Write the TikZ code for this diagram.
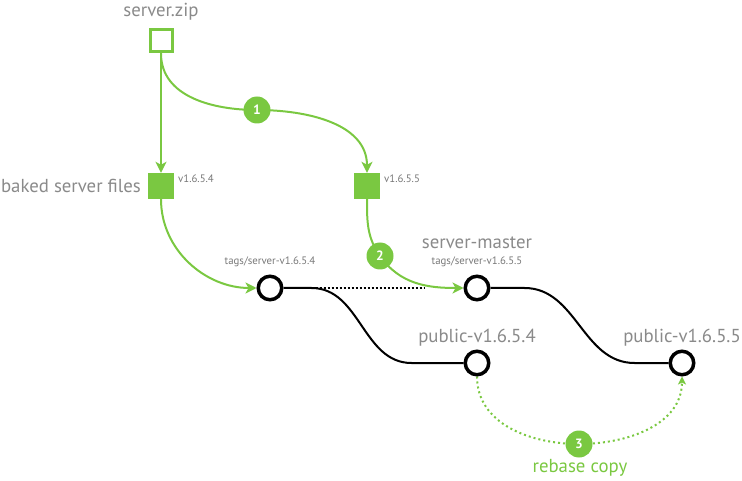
\documentclass[tikz,border=0pt]{standalone}
\usepackage{fontspec}
\setmainfont{PT Sans}
\usetikzlibrary{arrows.meta,backgrounds}
\definecolor{mygreen}{RGB}{122,200,65}
\definecolor{textgray}{RGB}{138,138,138}
\definecolor{smallgray}{RGB}{120,120,120}
\tikzset{
 bigtext/.style={text=textgray, font=\fontsize{18.8}{22}\selectfont, inner sep=0pt},
 smalltext/.style={text=smallgray, font=\fontsize{10.8}{12}\selectfont, inner sep=0pt},
 greentext/.style={text=mygreen, font=\fontsize{18.8}{22}\selectfont, inner sep=0pt},
 commit/.style={circle, draw=black, line width=3.5pt, fill=white, minimum size=23.5pt, inner sep=0pt},
 gbox/.style={rectangle, fill=mygreen, minimum size=26pt, inner sep=0pt},
 obox/.style={rectangle, draw=mygreen, line width=3pt, fill=white, minimum size=22pt, inner sep=0pt},
 num/.style={circle, fill=mygreen, text=white, minimum size=27pt, inner sep=0pt, font=\fontsize{13.5}{14}\selectfont\bfseries},
 gline/.style={draw=mygreen, line width=2pt},
 garrow/.style={gline, -{Stealth[length=11pt,width=11pt,inset=3pt]}},
 gdotarrow/.style={draw=mygreen, line width=2pt, dash pattern=on 2pt off 3pt, -{Stealth[length=8pt,width=8pt,inset=2pt]}},
 bline/.style={draw=black, line width=2pt},
 bdots/.style={draw=black, line width=2pt, dash pattern=on 2pt off 2pt},
}
\begin{document}
\begin{tikzpicture}[x=1pt,y=1pt]
\useasboundingbox (0,0) rectangle (742,480);
% nodes
\node[obox] (zip) at (161,439) {};
\node[gbox] (b1) at (161,294) {};
\node[gbox] (b2) at (367,294) {};
\node[num] (c1) at (257,370) {1};
\node[num] (c2) at (380,224) {2};
\node[num] (c3) at (579,36) {3};
\node[commit] (t1) at (270,192) {};
\node[commit] (t2) at (477,192) {};
\node[commit] (p1) at (477,117) {};
\node[commit] (p2) at (682,117) {};
\coordinate (dotend) at (425,192);
% labels
\node[bigtext] (lzip) at (161,468) {server.zip};
\node[bigtext, anchor=east] (lb1) at (141,294) {baked server files};
\node[smalltext, anchor=west] (v1) at (178,301) {v1.6.5.4};
\node[smalltext, anchor=west] (v2) at (384,301) {v1.6.5.5};
\node[smalltext] (lt1) at (270,218) {tags/server-v1.6.5.4};
\node[bigtext] (lsm) at (477,237) {server-master};
\node[smalltext] (lt2) at (477,218) {tags/server-v1.6.5.5};
\node[bigtext] (lp1) at (477,142) {public-v1.6.5.4};
\node[bigtext] (lp2) at (682,142) {public-v1.6.5.5};
\node[greentext] (lrb) at (580,12) {rebase copy};
% connectors
\begin{scope}[on background layer]
\draw[garrow] (zip.south) -- (b1.north);
\draw[gline] (zip.south) to[out=-90,in=180] (c1.center);
\draw[garrow] (c1.center) to[out=0,in=90] (b2.north);
\draw[garrow] (b1.south) to[out=-90,in=180] (t1.west);
\draw[bdots] (t1.east) -- (dotend);
\draw[garrow] (b2.south) to[out=-90,in=125] (c2.center) to[out=-55,in=180] (t2.west);
\draw[bline] (t1.east) -- ++(28,0) to[out=0,in=180] ++(100,-75) -- (p1.west);
\draw[bline] (t2.east) -- ++(34,0) to[out=0,in=180] ++(110,-75) -- (p2.west);
\draw[gdotarrow] (p1.south) to[out=-90,in=180] (c3.center) to[out=0,in=-90] (p2.south);
\end{scope}
\end{tikzpicture}
\end{document}
